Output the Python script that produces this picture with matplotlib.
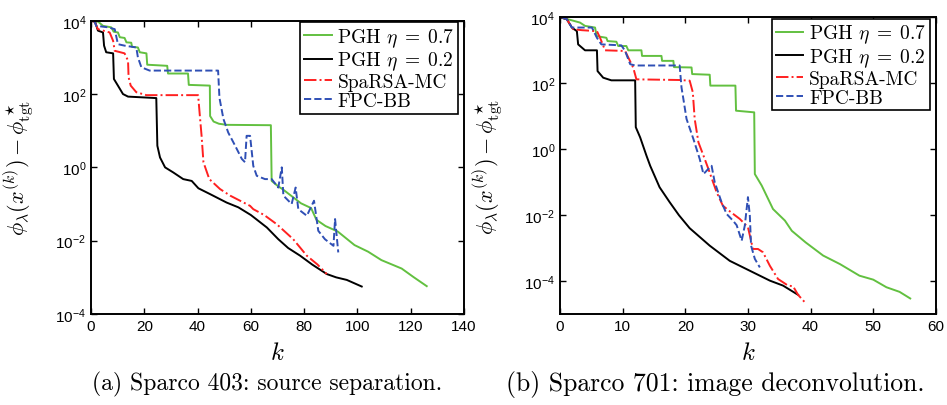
import matplotlib
matplotlib.use("Agg")
import matplotlib.pyplot as plt
import numpy as np

plt.rcParams['mathtext.fontset'] = 'cm'
plt.rcParams['font.family'] = ['Liberation Sans Narrow', 'Liberation Sans', 'DejaVu Sans']
plt.rcParams['axes.linewidth'] = 1.4

# ---- (a) Sparco 403: iterations k and log10 of objective gap ----
a_k_pgh07 = [0, 2.6, 4.5, 7.6, 8.5, 10.1, 10.8, 12.6, 13.3, 15.1, 15.4, 17.6, 18.3, 20.8, 21.1,
             28.6, 28.9, 36.4, 36.7, 44.6, 44.7, 46.0, 48.0, 50.9, 67.5, 67.8, 70.3, 72.0,
             78.8, 82.6, 84.6, 88.0, 92.6, 98.9, 104.0, 109.0, 116.6, 121.0, 126.0]
a_v_pgh07 = [4.0, 3.98, 3.86, 3.82, 3.70, 3.68, 3.55, 3.53, 3.41, 3.40, 3.29, 3.27, 3.14, 3.11, 2.80,
             2.77, 2.56, 2.56, 2.25, 2.23, 1.40, 1.25, 1.19, 1.16, 1.15, -0.37, -0.52, -0.60,
             -0.98, -1.11, -1.43, -1.60, -1.75, -2.12, -2.30, -2.53, -2.76, -2.99, -3.24]

a_k_pgh02 = [0, 1.4, 2.6, 4.5, 4.9, 5.7, 8.3, 8.6, 10.1, 12.0, 13.9, 24.5, 24.9, 25.9, 27.8,
             30.9, 34.6, 37.8, 40.3, 44.7, 50.9, 55.3, 60.0, 66.0, 70.3, 74.0, 78.5, 83.0,
             88.5, 92.0, 96.0, 101.6]
a_v_pgh02 = [4.0, 4.0, 3.73, 3.68, 3.32, 3.14, 3.11, 2.41, 2.23, 2.00, 1.93, 1.89, 0.59, 0.27, 0.0,
             -0.14, -0.32, -0.37, -0.57, -0.73, -0.96, -1.09, -1.30, -1.64, -1.96, -2.20, -2.41, -2.65,
             -2.91, -3.00, -3.07, -3.25]

a_k_sparsa = [0.5, 1.4, 2.6, 7.0, 8.3, 8.9, 12.6, 13.9, 14.1, 14.9, 17.0, 20.8, 40.2, 40.8,
              41.5, 42.2, 44.4, 48.4, 52.2, 59.7, 60.9, 65.0, 69.7, 75.9, 81.0, 85.0, 88.5]
a_v_sparsa = [4.0, 3.96, 3.77, 3.68, 3.45, 3.18, 3.11, 2.91, 2.46, 2.23, 2.05, 1.97, 1.97, 1.45,
              0.86, 0.14, -0.32, -0.59, -0.77, -1.05, -1.14, -1.30, -1.55, -1.96, -2.41, -2.65, -2.91]

a_k_fpcbb = [1.0, 2.0, 6.4, 8.9, 10.1, 12.6, 17.0, 17.6, 18.9, 22.0, 47.7, 48.2, 49.7, 51.5,
             54.1, 56.6, 57.8, 58.4, 59.7, 60.9, 62.2, 65.3, 67.8, 70.3, 71.6, 72.2, 75.3,
             76.8, 77.8, 81.0, 83.7, 85.3, 87.8, 91.0, 91.6, 92.8]
a_v_fpcbb = [4.02, 3.86, 3.82, 3.77, 3.36, 3.32, 3.27, 3.00, 2.73, 2.64, 2.64, 1.90, 1.32, 0.95,
             0.59, 0.23, 0.14, 0.86, 0.86, 0.04, -0.23, -0.32, -0.32, -0.55, 0.0, -0.77, -1.00,
             -0.55, -1.14, -1.32, -0.91, -1.73, -1.96, -2.14, -1.41, -2.32]

# ---- (b) Sparco 701 ----
b_k_pgh07 = [0, 1.3, 3.2, 4.0, 5.6, 5.85, 7.4, 7.6, 9.0, 9.3, 10.6, 10.9, 13.0, 13.1, 16.2, 16.3,
             18.1, 18.2, 21.0, 21.1, 23.9, 24.0, 28.0, 28.1, 31.0, 31.1, 32.2, 34.0, 35.9, 37.0,
             39.2, 42.0, 44.7, 47.8, 50.0, 52.1, 54.2, 55.9]
b_v_pgh07 = [4.0, 3.94, 3.84, 3.74, 3.69, 3.43, 3.38, 3.28, 3.26, 3.13, 3.13, 3.00, 3.00, 2.83, 2.83, 2.68,
             2.68, 2.49, 2.48, 2.28, 2.26, 1.93, 1.93, 1.17, 1.12, -0.75, -1.10, -1.81, -2.16, -2.47,
             -2.82, -3.22, -3.48, -3.83, -3.95, -4.18, -4.32, -4.52]

b_k_pgh02 = [0, 1.1, 1.9, 2.7, 2.9, 4.0, 5.9, 6.0, 6.9, 8.2, 12.0, 12.1, 12.8, 13.8, 14.4, 15.9,
             17.5, 19.0, 20.7, 23.9, 27.1, 30.3, 33.5, 35.6, 38.0]
b_v_pgh02 = [4.0, 3.94, 3.69, 3.58, 3.18, 3.00, 3.00, 2.37, 2.17, 2.09, 2.09, 0.67, 0.36, -0.19, -0.50, -1.15,
             -1.60, -2.00, -2.39, -2.92, -3.38, -3.68, -3.98, -4.13, -4.41]

b_k_sparsa = [0.3, 1.1, 2.1, 3.5, 5.9, 6.4, 7.2, 10.4, 11.7, 12.2, 19.1, 20.7, 21.2, 21.5, 22.1,
              22.9, 23.7, 25.0, 26.0, 27.3, 28.7, 30.0, 30.8, 31.6, 32.4, 33.5, 34.8, 36.4, 37.2,
              38.0, 39.1]
b_v_sparsa = [4.0, 3.94, 3.64, 3.61, 3.58, 3.38, 3.00, 2.98, 2.47, 2.12, 2.10, 2.08, 1.73, 0.92, 0.21,
              -0.19, -0.60, -1.30, -1.71, -1.91, -2.11, -2.36, -3.02, -3.02, -3.12, -3.53, -3.93, -4.13, -4.15,
              -4.41, -4.64]

b_k_fpcbb = [0.3, 1.1, 1.9, 5.1, 5.9, 6.6, 9.8, 10.4, 11.2, 12.0, 19.1, 19.4, 19.7, 20.2, 21.3,
             22.3, 22.9, 23.9, 24.2, 24.7, 25.8, 26.6, 27.6, 28.2, 29.0, 29.5, 30.0, 30.3, 30.5,
             31.1, 31.9]
b_v_fpcbb = [4.0, 3.94, 3.69, 3.69, 3.38, 3.18, 3.15, 2.98, 2.58, 2.54, 2.54, 1.87, 1.52, 0.92, 0.31,
             -0.29, -0.75, -0.55, -0.50, -1.00, -1.61, -1.96, -2.16, -2.30, -2.77, -2.31, -1.45, -2.01, -2.92,
             -3.32, -3.58]

labels = [r'PGH $\eta\;=\;0.7$', r'PGH $\eta\;=\;0.2$', 'SpaRSA-MC', 'FPC-BB']
colors = ['#62c040', 'black', '#ff2020', '#2f4fb5']
styles = ['-', '-', '-.', '--']

fig = plt.figure(figsize=(9.47, 4.06), dpi=100)
ax1 = fig.add_axes([0.0961, 0.2241, 0.3939, 0.7224])
ax2 = fig.add_axes([0.5913, 0.2234, 0.3970, 0.7315])

series_a = [(a_k_pgh07, a_v_pgh07), (a_k_pgh02, a_v_pgh02), (a_k_sparsa, a_v_sparsa), (a_k_fpcbb, a_v_fpcbb)]
series_b = [(b_k_pgh07, b_v_pgh07), (b_k_pgh02, b_v_pgh02), (b_k_sparsa, b_v_sparsa), (b_k_fpcbb, b_v_fpcbb)]

for ax, series in [(ax1, series_a), (ax2, series_b)]:
    for (k, v), lab, c, ls in zip(series, labels, colors, styles):
        ax.plot(k, 10.0 ** np.array(v), color=c, linestyle=ls, linewidth=1.4, label=lab)
    ax.set_yscale('log')
    ax.tick_params(direction='in', top=True, right=True, length=4, width=1,
                   labelsize=11, which='major')
    ax.tick_params(which='minor', left=False, right=False)
    ax.set_xlabel(r'$k$', fontsize=18, labelpad=5)
    ax.set_ylabel(r'$\phi_\lambda(x^{(k)}) - \phi^\star_{\mathrm{tgt}}$', fontsize=16)
    leg = ax.legend(loc='upper right', bbox_to_anchor=(0.985, 0.995), borderaxespad=0,
                    fancybox=False, framealpha=1, edgecolor='black',
                    prop={'family': 'cmr10', 'size': 14}, handlelength=1.4,
                    handletextpad=0.3, labelspacing=0.05, borderpad=0.2)
    leg.get_frame().set_linewidth(1.2)

ax1.set_xlim(0, 140)
ax1.set_ylim(1e-4, 1e4)
ax1.set_xticks(np.arange(0, 141, 20))
ax1.set_yticks([1e-4, 1e-2, 1e0, 1e2, 1e4])

ax2.set_xlim(0, 60)
ax2.set_ylim(1e-5, 1e4)
ax2.set_xticks(np.arange(0, 61, 10))
ax2.set_yticks([1e-4, 1e-2, 1e0, 1e2, 1e4])

ax1.yaxis.set_label_coords(-0.148, 0.5)
ax2.yaxis.set_label_coords(-0.146, 0.5)

fig.text(0.282, 0.053, '(a) Sparco 403: source separation.', family='cmr10', fontsize=17,
         ha='center', va='center')
fig.text(0.7555, 0.053, '(b) Sparco 701: image deconvolution.', family='cmr10', fontsize=18.5,
         ha='center', va='center')

fig.savefig('out.png', dpi=100)
